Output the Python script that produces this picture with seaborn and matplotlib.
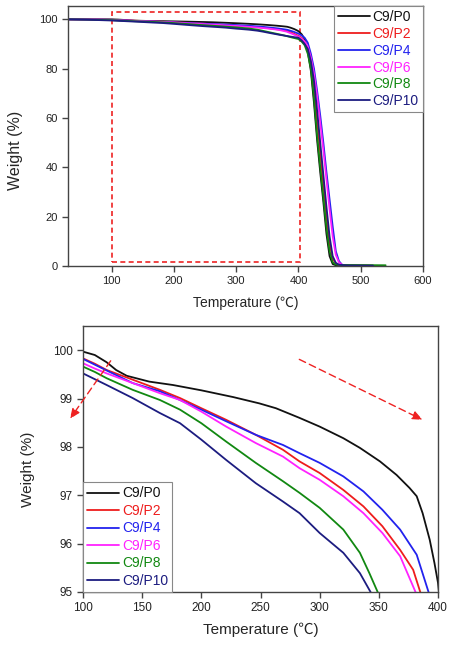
import numpy as np
import pandas as pd
import matplotlib
matplotlib.use("Agg")
import matplotlib.pyplot as plt
from matplotlib.lines import Line2D
from matplotlib.patches import Rectangle
import seaborn as sns

# ---------------- data ----------------
series_names = ["C9/P0", "C9/P2", "C9/P4", "C9/P6", "C9/P8", "C9/P10"]
series_colors = ["#111111", "#ee1c1c", "#2222ee", "#ff22ff", "#118811", "#1c1c80"]

temp_p0 = [30, 60, 100, 110, 120, 128, 137, 156, 176, 200, 227, 249, 263, 283, 300, 320, 334, 351, 365, 376,
           382, 387, 393, 397, 400, 405, 410, 415, 420, 425, 430, 435, 440, 445, 450, 455, 460, 480, 520]
weight_p0 = [100.0, 100.0, 99.97, 99.9, 99.75, 99.59, 99.47, 99.35, 99.28, 99.17, 99.03, 98.9, 98.8, 98.6, 98.42,
             98.18, 97.98, 97.7, 97.42, 97.15, 96.98, 96.63, 96.08, 95.6, 95.19, 94.0, 92.0, 87.0, 79.0, 66.0,
             51.0, 38.0, 26.0, 13.0, 4.0, 0.8, 0.3, 0.2, 0.1]

temp_p2 = [30, 60, 100, 110, 120, 142, 165, 182, 200, 221, 246, 269, 283, 300, 320, 337, 353, 368, 379, 385,
           390, 395, 400, 405, 410, 415, 420, 425, 430, 435, 440, 445, 450, 455, 460, 465, 480, 520]
weight_p2 = [100.0, 99.95, 99.83, 99.72, 99.59, 99.39, 99.18, 99.01, 98.8, 98.56, 98.25, 97.94, 97.7, 97.46,
             97.11, 96.77, 96.36, 95.87, 95.46, 95.0, 94.5, 93.9, 93.3, 92.5, 91.0, 88.0, 82.0, 72.0, 59.0, 46.0,
             33.0, 20.0, 9.0, 3.0, 1.0, 0.4, 0.2, 0.1]

temp_p4 = [30, 60, 100, 110, 120, 142, 165, 182, 200, 221, 246, 269, 283, 300, 320, 337, 353, 368, 382, 392,
           400, 405, 410, 415, 420, 425, 430, 435, 440, 445, 450, 455, 460, 465, 470, 480, 520]
weight_p4 = [100.0, 99.95, 99.82, 99.7, 99.58, 99.32, 99.15, 98.97, 98.77, 98.53, 98.25, 98.04, 97.87, 97.67,
             97.39, 97.08, 96.7, 96.29, 95.77, 95.0, 94.2, 93.5, 92.5, 90.5, 86.0, 80.0, 71.0, 61.0, 50.0, 38.0,
             27.0, 16.0, 6.0, 2.0, 0.5, 0.2, 0.1]

temp_p6 = [30, 60, 100, 110, 120, 142, 165, 182, 200, 221, 246, 269, 283, 300, 320, 337, 353, 368, 381, 390,
           400, 405, 410, 415, 420, 425, 430, 435, 440, 445, 450, 455, 460, 465, 470, 480, 520]
weight_p6 = [100.0, 99.93, 99.73, 99.62, 99.52, 99.32, 99.11, 98.97, 98.73, 98.42, 98.08, 97.8, 97.56, 97.32,
             96.98, 96.63, 96.22, 95.74, 95.0, 94.1, 93.0, 92.2, 91.0, 89.0, 84.5, 78.0, 69.0, 58.0, 47.0, 35.0,
             23.0, 12.0, 4.5, 1.5, 0.5, 0.2, 0.1]

temp_p8 = [30, 60, 100, 110, 120, 142, 165, 182, 200, 221, 246, 269, 283, 300, 320, 334, 342, 349, 360, 375,
           390, 400, 405, 410, 415, 420, 425, 430, 435, 440, 445, 450, 455, 460, 470, 540]
weight_p8 = [100.0, 99.9, 99.66, 99.55, 99.42, 99.18, 98.97, 98.77, 98.49, 98.11, 97.67, 97.29, 97.05, 96.74,
             96.29, 95.81, 95.39, 95.0, 94.4, 93.6, 92.6, 92.0, 91.0, 89.5, 86.0, 80.0, 68.0, 53.0, 40.0, 28.0,
             15.5, 6.0, 1.5, 0.6, 0.4, 0.3]

temp_p10 = [30, 60, 100, 110, 120, 142, 165, 182, 200, 221, 246, 269, 283, 300, 320, 334, 343, 355, 370, 385,
            400, 405, 410, 415, 420, 425, 430, 435, 440, 445, 450, 455, 460, 465, 480, 520]
weight_p10 = [100.0, 99.85, 99.52, 99.4, 99.28, 99.01, 98.7, 98.49, 98.15, 97.73, 97.25, 96.87, 96.63, 96.22,
              95.81, 95.39, 95.0, 94.4, 93.7, 93.1, 92.5, 91.5, 90.0, 88.0, 83.0, 75.0, 63.0, 50.0, 37.0, 24.0,
              12.0, 4.0, 1.3, 0.5, 0.2, 0.1]

top_xticks = [100, 200, 300, 400, 500, 600]
top_yticks = [0, 20, 40, 60, 80, 100]
bot_xticks = [100, 150, 200, 250, 300, 350, 400]
bot_yticks = [95, 96, 97, 98, 99, 100]

temps = [temp_p0, temp_p2, temp_p4, temp_p6, temp_p8, temp_p10]
weights = [weight_p0, weight_p2, weight_p4, weight_p6, weight_p8, weight_p10]

frames = []
for name, t, w in zip(series_names, temps, weights):
    frames.append(pd.DataFrame({"Temperature": t, "Weight": w, "Sample": name}))
df = pd.concat(frames, ignore_index=True)

# ---------------- style ----------------
sns.set_style("ticks")
fonts = ["Liberation Sans", "Noto Sans CJK SC", "DejaVu Sans"]
plt.rcParams["font.family"] = fonts
plt.rcParams["axes.edgecolor"] = "#444444"
plt.rcParams["axes.linewidth"] = 1.0
plt.rcParams["xtick.color"] = "#444444"
plt.rcParams["ytick.color"] = "#444444"
plt.rcParams["xtick.labelcolor"] = "#222222"
plt.rcParams["ytick.labelcolor"] = "#222222"

fig = plt.figure(figsize=(4.57, 6.45), dpi=100)
ax1 = fig.add_axes([68 / 457, 1 - 266 / 645, 355 / 457, 260 / 645])
ax2 = fig.add_axes([83 / 457, 1 - 592 / 645, 355 / 457, 266 / 645])

palette = dict(zip(series_names, series_colors))
for ax in (ax1, ax2):
    sns.lineplot(data=df, x="Temperature", y="Weight", hue="Sample", hue_order=series_names,
                 palette=palette, estimator=None, sort=False, linewidth=1.3, legend=False, ax=ax)
    ax.tick_params(axis="both", which="major", direction="out", length=4, width=1,
                   top=False, right=False)
    for s in ax.spines.values():
        s.set_visible(True)

# top panel
ax1.set_xlim(30, 600)
ax1.set_ylim(0, 105.4)
ax1.set_xticks(top_xticks)
ax1.set_yticks(top_yticks)
ax1.tick_params(labelsize=8)
ax1.set_xlabel("Temperature (\u2103)", fontsize=10, labelpad=7)
ax1.set_ylabel("Weight (%)", fontsize=11.5)
ax1.yaxis.set_label_coords(-0.127, 0.446)
ax1.add_patch(Rectangle((100, 1.8), 302, 101.2, fill=False, edgecolor="#ee2222",
                        linestyle=(0, (3, 2)), linewidth=1.2, zorder=1))

# bottom panel
ax2.set_xlim(100, 400)
ax2.set_ylim(95, 100.5)
ax2.set_xticks(bot_xticks)
ax2.set_yticks(bot_yticks)
ax2.tick_params(labelsize=8.5)
ax2.set_xlabel("Temperature (\u2103)", fontsize=11, labelpad=6)
ax2.set_ylabel("Weight (%)", fontsize=11)
ax2.yaxis.set_label_coords(-0.135, 0.462)

# dashed arrows
for (x0, y0, x1, y1) in [(123.4, 99.78, 89.0, 98.58), (282.8, 99.81, 387.0, 98.56)]:
    ax2.annotate("", xy=(x1, y1), xytext=(x0, y0), annotation_clip=False,
                 arrowprops=dict(arrowstyle="-|>,head_length=0.6,head_width=0.25", color="#ee2222",
                                 linestyle=(0, (5, 3)), linewidth=1.0, shrinkA=0, shrinkB=0))

# legends
handles = [Line2D([0], [0], color=c, lw=1.3) for c in series_colors]
leg1 = ax1.legend(handles, series_names, loc="upper right", fontsize=10, frameon=True, fancybox=False,
                  edgecolor="#888888", framealpha=1, borderaxespad=0, handlelength=2.3,
                  handletextpad=0.2, labelspacing=0.2, borderpad=0.3, labelcolor="linecolor")
leg1.get_frame().set_linewidth(0.8)
leg2 = ax2.legend(handles, series_names, loc="lower left", fontsize=10, frameon=True, fancybox=False,
                  edgecolor="#888888", framealpha=1, borderaxespad=0, handlelength=2.3,
                  handletextpad=0.2, labelspacing=0.25, borderpad=0.3, labelcolor="linecolor")
leg2.get_frame().set_linewidth(0.8)

fig.savefig("out.png", dpi=100)
